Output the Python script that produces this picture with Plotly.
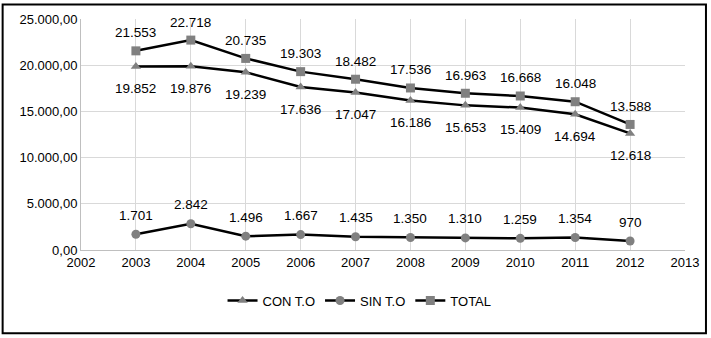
import plotly.graph_objects as go

years = [2003, 2004, 2005, 2006, 2007, 2008, 2009, 2010, 2011, 2012]
con_to = [19852, 19876, 19239, 17636, 17047, 16186, 15653, 15409, 14694, 12618]
sin_to = [1701, 2842, 1496, 1667, 1435, 1350, 1310, 1259, 1354, 970]
total = [21553, 22718, 20735, 19303, 18482, 17536, 16963, 16668, 16048, 13588]

FAM = "Liberation Sans, Arial, sans-serif"
font = dict(family=FAM, size=13, color="black")
lab_font = dict(family=FAM, size=13.5, color="black")

fig = go.Figure()
series = [
    ("CON T.O", con_to, "triangle-up", -22, 9),
    ("SIN T.O", sin_to, "circle", 19, 9),
    ("TOTAL", total, "square", 18, 9),
]
for name, vals, sym, shift, msize in series:
    fig.add_trace(go.Scatter(
        x=years, y=vals, name=name, mode="lines+markers",
        line=dict(color="black", width=2.5),
        marker=dict(symbol=sym, size=msize, color="#808080"),
        cliponaxis=False))
    for xv, yv in zip(years, vals):
        fig.add_annotation(x=xv, y=yv, text=f"{yv:,}".replace(",", "."),
                           showarrow=False, yshift=shift, font=lab_font)

W, H = 711, 338
ml, mr, mt, mb = 81, 25, 17, 88
pw, ph = W - ml - mr, H - mt - mb

def px(x):
    return (x - ml) / pw

def py(y):
    return (H - mb - y) / ph

fig.add_shape(type="rect", xref="paper", yref="paper",
              x0=px(2.5), x1=px(707), y0=py(334), y1=py(2.5),
              line=dict(color="black", width=2), layer="above")

fig.update_layout(
    width=W, height=H, autosize=False,
    margin=dict(l=ml, r=mr, t=mt, b=mb),
    paper_bgcolor="white", plot_bgcolor="white",
    separators=",.",
    font=font,
    showlegend=True,
    legend=dict(orientation="h", x=px(360), xanchor="center", y=py(301), yanchor="middle",
                font=font, tracegroupgap=0),
    xaxis=dict(range=[2002, 2013], dtick=1, tick0=2002, showgrid=True,
               gridcolor="#d9d9d9", gridwidth=1, zeroline=False,
               showline=True, linecolor="#bfbfbf", linewidth=1,
               ticks="", tickfont=font),
    yaxis=dict(range=[0, 25000], dtick=5000, tickformat=",.2f", showgrid=True,
               gridcolor="#d9d9d9", gridwidth=1, zeroline=False,
               showline=True, linecolor="#bfbfbf", linewidth=1,
               ticks="", tickfont=font),
)

fig.write_html("out.html", config={"displayModeBar": False},
               post_script="document.body.style.margin='0';document.body.style.overflow='hidden';")
